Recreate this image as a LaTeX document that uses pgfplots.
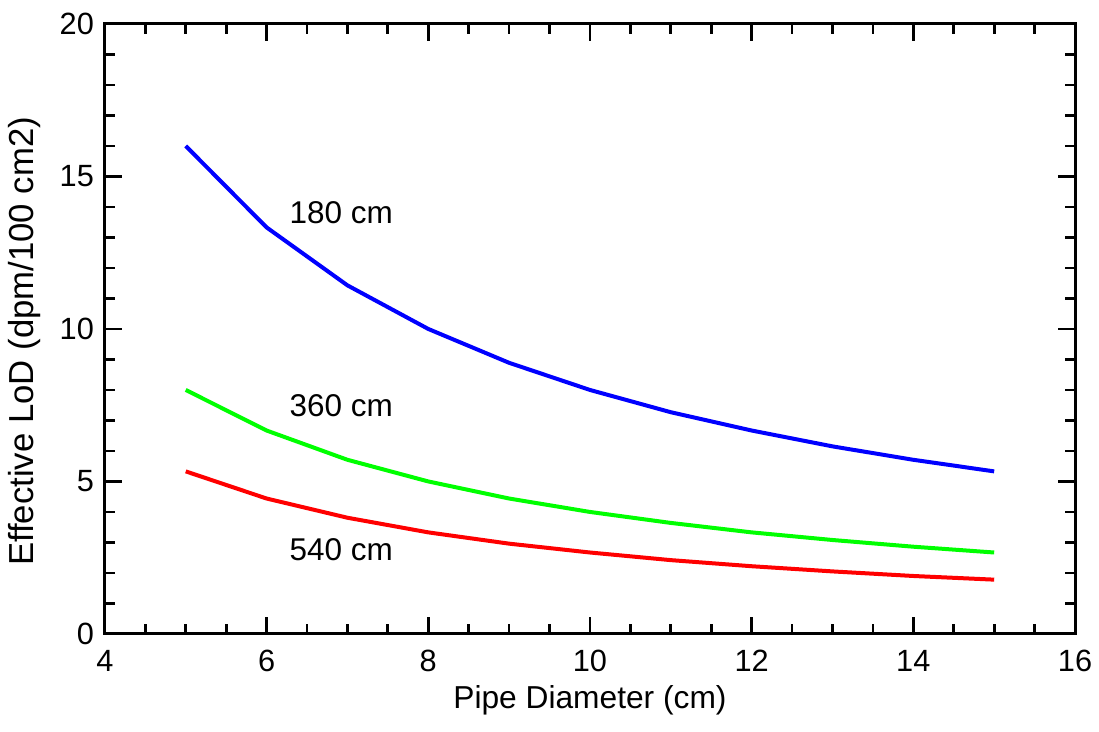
\documentclass[border=0pt]{standalone}
\usepackage{fontspec}
\setmainfont{Liberation Sans}
\usepackage{pgfplots}
\pgfplotsset{compat=1.18}
\begin{document}
\fontsize{12.6}{15}\selectfont
\begin{tikzpicture}
\begin{axis}[
  scale only axis,
  width=388.4pt, height=244.2pt,
  xmin=4, xmax=16, ymin=0, ymax=20,
  xtick={4,6,...,16}, ytick={0,5,...,20},
  minor x tick num=3, minor y tick num=4,
  tick align=inside,
  major tick length=6.8pt, minor tick length=4pt,
  axis line style={line width=1.2pt},
  every tick/.style={black, line width=1.1pt},
  /pgf/number format/assume math mode=true,
  ticklabel style={font=\fontsize{12.3}{14}\selectfont},
  xticklabel style={yshift=-2pt},
  xlabel style={font=\fontsize{12.7}{15}\selectfont, yshift=3pt},
  ylabel style={font=\fontsize{13.9}{15}\selectfont, yshift=-1pt, xshift=-5pt},
  xlabel={Pipe Diameter (cm)},
  ylabel={Effective LoD (dpm/100 cm2)},
  clip=false,
]
\addplot[blue, line width=1.6pt] coordinates {
(5,16.0) (6,13.33) (7,11.43) (8,10.0) (9,8.89) (10,8.0) (11,7.27) (12,6.67) (13,6.15) (14,5.71) (15,5.33)};
\addplot[green, line width=1.6pt] coordinates {
(5,8.0) (6,6.67) (7,5.71) (8,5.0) (9,4.44) (10,4.0) (11,3.64) (12,3.33) (13,3.08) (14,2.86) (15,2.67)};
\addplot[red, line width=1.6pt] coordinates {
(5,5.33) (6,4.44) (7,3.81) (8,3.33) (9,2.96) (10,2.67) (11,2.42) (12,2.22) (13,2.05) (14,1.90) (15,1.78)};
\node[anchor=west, inner sep=0pt] at (axis cs:6.28,13.8) {180 cm};
\node[anchor=west, inner sep=0pt] at (axis cs:6.28,7.47) {360 cm};
\node[anchor=west, inner sep=0pt] at (axis cs:6.28,2.75) {540 cm};
\end{axis}
\pgfresetboundingbox
\useasboundingbox (-42pt,-39.2pt) rectangle (398pt,253.8pt);
\end{tikzpicture}
\end{document}
